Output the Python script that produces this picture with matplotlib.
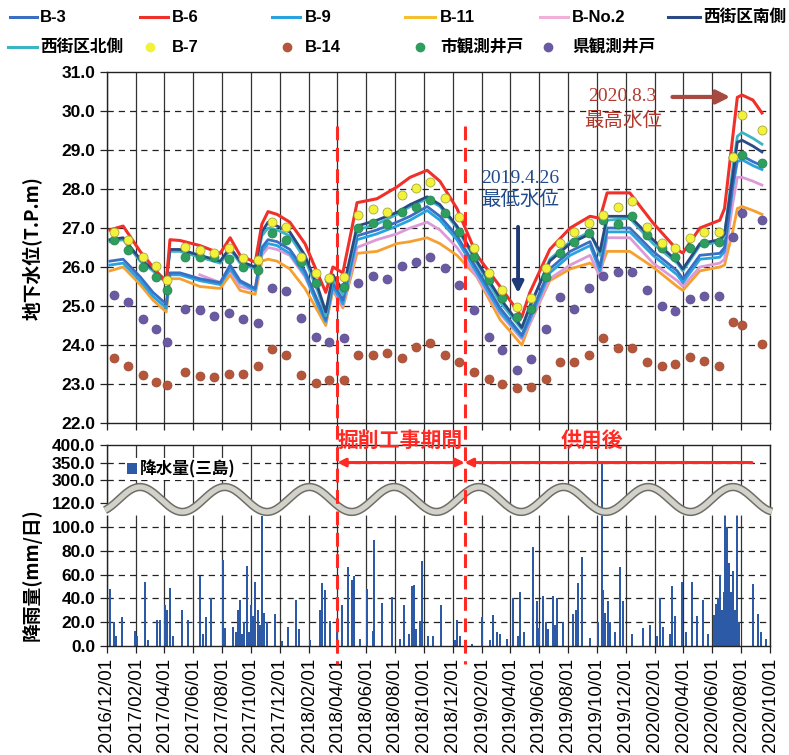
import matplotlib
matplotlib.use("Agg")
import matplotlib.pyplot as plt
import matplotlib.dates as mdates
from matplotlib import font_manager
from matplotlib.lines import Line2D
import numpy as np
import pandas as pd

_installed = {f.name for f in font_manager.fontManager.ttflist}
NARROW = 'Liberation Sans Narrow' if 'Liberation Sans Narrow' in _installed else 'Liberation Sans'
JP = 'Noto Sans CJK JP'
plt.rcParams['font.family'] = ['Liberation Sans', JP, 'DejaVu Sans']

# ---- 地下水位 (連続観測) ----
line_dates = ['2016-12-07', '2017-01-04', '2017-02-09', '2017-03-08', '2017-04-05', '2017-04-13',
              '2017-05-04', '2017-06-15', '2017-07-28', '2017-08-18', '2017-09-08', '2017-10-10',
              '2017-10-24', '2017-11-06', '2017-11-25', '2017-12-22', '2018-01-23', '2018-02-20',
              '2018-03-08', '2018-03-23', '2018-04-13', '2018-05-13', '2018-06-24', '2018-08-05',
              '2018-09-02', '2018-10-08', '2018-11-04', '2018-12-10', '2019-01-21', '2019-03-11',
              '2019-04-26', '2019-05-13', '2019-06-24', '2019-08-06', '2019-09-17', '2019-10-08',
              '2019-10-23', '2019-12-10', '2020-01-28', '2020-03-19', '2020-03-31', '2020-05-06',
              '2020-06-17', '2020-06-27', '2020-07-14', '2020-07-24', '2020-08-03', '2020-08-26',
              '2020-09-14']
b6 = [26.95, 27.05, 26.4, 26.0, 25.6, 26.7, 26.68, 26.55, 26.35, 26.75,
      26.3, 26.12, 27.1, 27.42, 27.35, 27.15, 26.6, 25.8, 25.35, 26.0,
      25.85, 27.65, 27.75, 28.05, 28.3, 28.48, 28.2, 27.5, 26.3, 25.5,
      24.72, 25.35, 26.45, 27.0, 27.3, 27.25, 27.9, 27.9, 27.13, 26.44,
      26.36, 27.0, 27.2, 27.5, 29.3, 30.35, 30.41, 30.28, 29.95]
nishi_s = [26.7, 26.75, 26.2, 25.95, 25.65, 26.45, 26.45, 26.3, 26.15, 26.5,
           26.15, 26.0, 26.9, 27.15, 27.05, 26.9, 26.3, 25.45, 24.85, 25.8,
           25.4, 27.05, 27.2, 27.4, 27.6, 27.8, 27.6, 27.05, 26.15, 25.2,
           24.45, 25.0, 26.15, 26.6, 26.85, 26.4, 27.3, 27.3, 26.7, 26.15,
           25.95, 26.6, 26.7, 26.85, 28.3, 29.2, 29.25, 29.1, 28.95]
nishi_n = [26.65, 26.7, 26.15, 25.9, 25.6, 26.4, 26.4, 26.25, 26.1, 26.45,
           26.1, 25.95, 26.8, 27.0, 26.95, 26.8, 26.2, 25.35, 24.75, 25.7,
           25.3, 26.95, 27.1, 27.35, 27.55, 27.75, 27.55, 27.0, 26.1, 25.1,
           24.4, 24.95, 26.2, 26.65, 26.9, 26.3, 27.2, 27.25, 26.6, 26.1,
           25.9, 26.55, 26.65, 26.8, 28.5, 29.35, 29.45, 29.3, 29.15]
b3 = [26.15, 26.2, 25.75, 25.35, 25.05, 25.85, 25.85, 25.7, 25.6, 26.05,
      25.65, 25.45, 26.5, 26.7, 26.65, 26.45, 25.9, 25.1, 24.65, 25.6,
      25.15, 26.8, 26.95, 27.15, 27.3, 27.55, 27.3, 26.8, 25.95, 24.95,
      24.25, 24.75, 25.95, 26.4, 26.65, 26.0, 27.0, 27.0, 26.4, 25.9,
      25.7, 26.3, 26.35, 26.5, 28.1, 28.85, 28.85, 28.7, 28.6]
b9 = [26.05, 26.1, 25.65, 25.25, 24.95, 25.8, 25.8, 25.65, 25.55, 25.95,
      25.6, 25.4, 26.4, 26.6, 26.55, 26.35, 25.8, 25.0, 24.6, 25.5,
      25.05, 26.7, 26.85, 27.05, 27.2, 27.45, 27.2, 26.7, 25.85, 24.85,
      24.2, 24.65, 25.85, 26.3, 26.55, 25.9, 26.9, 26.9, 26.3, 25.8,
      25.6, 26.2, 26.25, 26.4, 28.0, 28.7, 28.75, 28.6, 28.5]
bno2 = [np.nan] * 7 + [
        25.8, 25.6, 25.9, 25.5, 25.4, 26.3, 26.5, 26.45, 26.3, 25.75,
        25.0, 24.6, 25.45, 25.0, 26.5, 26.7, 26.85, 27.0, 27.15, 26.95,
        26.5, 25.75, 24.8, 24.15, 24.55, 25.7, 26.05, 26.3, 25.75, 26.75,
        26.75, 26.1, 25.65, 25.5, 26.0, 26.1, 26.2, 27.6, 28.3, 28.3,
        28.2, 28.1]
b11 = [25.9, 26.0, 25.55, 25.15, 24.85, 25.7, 25.7, 25.5, 25.45, 25.8,
       25.4, 25.3, 26.15, 26.2, 26.15, 25.95, 25.45, 24.85, 24.5, 25.4,
       24.95, 26.35, 26.4, 26.6, 26.65, 26.75, 26.6, 26.3, 25.75, 24.65,
       24.0, 24.55, 25.65, 25.95, 26.1, 25.9, 26.4, 26.4, 26.0, 25.5,
       25.4, 25.9, 26.0, 26.05, 26.9, 27.5, 27.55, 27.45, 27.35]

# ---- 地下水位 (月1回観測) ----
month_dates = [f'{y}-{m:02d}-15' for y, m in
               [(2016, 12)] + [(2017, m) for m in range(1, 13)] + [(2018, m) for m in range(1, 13)]
               + [(2019, m) for m in range(1, 13)] + [(2020, m) for m in range(1, 10)]]
month_dates[4] = '2017-04-07'
month_dates[44] = '2020-08-03'
b7 = [26.9, 26.69, 26.26, 26.03, 25.67, 26.52, 26.44, 26.36, 26.49, 26.23,
      26.18, 27.16, 27.03, 26.26, 25.84, 25.72, 25.75, 27.33, 27.5, 27.42,
      27.85, 28.02, 28.19, 27.76, 27.29, 26.48, 25.84, 25.41, 24.98, 25.2,
      25.97, 26.61, 26.91, 27.12, 27.33, 27.55, 27.68, 27.03, 26.61, 26.48,
      26.74, 26.91, 26.91, 28.83, 29.9, 29.51]
b14 = [23.66, 23.46, 23.23, 23.06, 22.97, 23.32, 23.2, 23.18, 23.26, 23.26,
       23.46, 23.91, 23.74, 23.23, 23.03, 23.1, 23.1, 23.75, 23.75, 23.8,
       23.66, 23.95, 24.04, 23.74, 23.56, 23.32, 23.12, 23.01, 22.89, 22.93,
       23.14, 23.56, 23.56, 23.75, 24.17, 23.93, 23.93, 23.56, 23.45, 23.52,
       23.69, 23.58, 23.47, 24.6, 24.52, 24.03]
city_well = [26.69, 26.44, 26.0, 25.75, 25.41, 26.26, 26.26, 26.26, 26.2, 26.0,
             25.92, 26.87, 26.69, 26.14, 25.58, 25.7, 25.5, 27.0, 27.13, 27.1,
             27.42, 27.55, 27.72, 27.38, 26.9, 26.26, 25.67, 25.2, 24.72, 24.93,
             25.75, 26.36, 26.65, 26.87, 27.2, 27.1, 27.3, 26.82, 26.48, 26.26,
             26.48, 26.61, 26.65, 28.83, 28.87, 28.66]
pref_well = [25.28, 25.09, 24.66, 24.4, 24.08, 24.92, 24.9, 24.74, 24.82, 24.66,
             24.57, 25.47, 25.38, 24.7, 24.21, 24.08, 24.17, 25.6, 25.76, 25.7,
             26.03, 26.14, 26.26, 25.97, 25.54, 24.9, 24.21, 23.87, 23.36, 23.63,
             24.4, 25.24, 24.92, 25.45, 25.76, 25.88, 25.88, 25.41, 24.99, 24.86,
             25.17, 25.26, 25.26, 26.78, 27.39, 27.2]

# ---- 降水量(三島) mm/日 ----
rain_dates = ['2016-12-07', '2016-12-16', '2016-12-20', '2017-01-02', '2017-01-29', '2017-02-02',
              '2017-02-19', '2017-02-26', '2017-03-17', '2017-03-23', '2017-04-02', '2017-04-07',
              '2017-04-13', '2017-04-19', '2017-05-08', '2017-05-21', '2017-06-15', '2017-06-22',
              '2017-06-28', '2017-07-09', '2017-08-03', '2017-08-07', '2017-08-24', '2017-08-30',
              '2017-09-04', '2017-09-08', '2017-09-12', '2017-09-16', '2017-09-23', '2017-09-27',
              '2017-10-01', '2017-10-05', '2017-10-10', '2017-10-16', '2017-10-20', '2017-10-24',
              '2017-10-29', '2017-11-04', '2017-11-21', '2017-12-06', '2017-12-18', '2018-01-04',
              '2018-01-10', '2018-02-03', '2018-02-24', '2018-02-28', '2018-03-06', '2018-03-17',
              '2018-04-01', '2018-04-11', '2018-04-24', '2018-05-02', '2018-05-07', '2018-05-19',
              '2018-06-03', '2018-06-16', '2018-06-18', '2018-07-05', '2018-07-26', '2018-08-12',
              '2018-08-20', '2018-08-31', '2018-09-06', '2018-09-10', '2018-09-15', '2018-09-23',
              '2018-09-27', '2018-10-10', '2018-10-20', '2018-11-06', '2018-12-06', '2018-12-10',
              '2018-12-16', '2019-01-11', '2019-02-01', '2019-02-18', '2019-02-24', '2019-03-05',
              '2019-03-11', '2019-03-26', '2019-04-07', '2019-04-18', '2019-04-22', '2019-05-01',
              '2019-05-20', '2019-05-28', '2019-06-01', '2019-06-10', '2019-06-16', '2019-06-20',
              '2019-07-01', '2019-07-05', '2019-07-09', '2019-07-22', '2019-08-12', '2019-08-18',
              '2019-08-23', '2019-08-31', '2019-09-17', '2019-10-04', '2019-10-12', '2019-10-14',
              '2019-10-18', '2019-10-25', '2019-10-29', '2019-11-09', '2019-11-19', '2019-11-26',
              '2019-12-15', '2020-01-07', '2020-01-22', '2020-02-05', '2020-02-12', '2020-02-18',
              '2020-03-04', '2020-03-08', '2020-03-14', '2020-03-29', '2020-04-07', '2020-04-19',
              '2020-04-30', '2020-05-13', '2020-05-23', '2020-06-05', '2020-06-09', '2020-06-13',
              '2020-06-17', '2020-06-22', '2020-06-25', '2020-06-28', '2020-07-02', '2020-07-05',
              '2020-07-07', '2020-07-11', '2020-07-15', '2020-07-19', '2020-07-23', '2020-07-28',
              '2020-08-26', '2020-09-06', '2020-09-12', '2020-09-23']
rain_mm = [47.6, 20.0, 8.0, 24.6, 13.0, 8.0,
           54.0, 5.0, 22.0, 22.0, 34.0, 30.0,
           49.0, 8.0, 30.0, 22.0, 59.0, 10.0,
           24.0, 40.0, 72.0, 15.0, 16.0, 12.0,
           30.0, 39.0, 10.0, 20.0, 67.0, 12.0,
           34.0, 25.0, 54.0, 30.0, 18.0, 109.0,
           28.0, 20.0, 27.0, 4.0, 16.0, 39.0,
           14.0, 5.0, 30.0, 53.0, 47.0, 21.0,
           16.0, 34.0, 66.0, 55.0, 59.0, 6.0,
           48.0, 13.0, 89.0, 36.0, 41.0, 6.0,
           34.0, 10.0, 50.0, 51.0, 14.0, 21.0,
           71.0, 8.0, 8.0, 34.0, 5.0, 22.0,
           8.0, 2.0, 24.0, 5.0, 26.0, 12.0,
           10.0, 6.0, 40.0, 8.0, 45.0, 12.0,
           83.0, 38.0, 15.0, 42.0, 20.0, 14.0,
           42.0, 18.0, 40.0, 20.0, 27.0, 30.0,
           53.0, 75.0, 7.0, 20.0, 350.0, 47.0,
           28.0, 38.0, 20.0, 12.0, 66.0, 38.0,
           10.0, 15.0, 18.0, 8.0, 40.0, 16.0,
           10.0, 50.0, 25.0, 54.0, 12.0, 54.0,
           25.0, 39.0, 10.0, 26.0, 35.0, 40.0,
           60.0, 30.0, 45.0, 111.0, 100.0, 40.0,
           70.0, 45.0, 63.0, 30.0, 111.0, 20.0,
           52.0, 27.0, 12.0, 6.0]

period_start = '2018-04-01'
period_end = '2018-12-26'
arrow_end = '2020-08-24'

W, H = 789, 755
fig = plt.figure(figsize=(W / 100, H / 100), dpi=100)
ax = fig.add_axes([107 / W, 1 - 423 / H, 663 / W, 351 / H])
axr = fig.add_axes([107 / W, 1 - 646 / H, 663 / W, 201 / H], sharex=ax)

ld = pd.to_datetime(line_dates)
md = pd.to_datetime(month_dates)

# 線
ax.plot(ld, b11, color='#f5a030', lw=2.0, zorder=3)
ax.plot(ld, bno2, color='#dc9ad8', lw=2.0, zorder=3)
ax.plot(ld, b9, color='#29a3e0', lw=2.0, zorder=3)
ax.plot(ld, b3, color='#3a6fc4', lw=2.0, zorder=3)
ax.plot(ld, nishi_n, color='#3cb4c4', lw=2.0, zorder=3)
ax.plot(ld, nishi_s, color='#2b4a84', lw=2.0, zorder=3)
ax.plot(ld, b6, color='#f0302a', lw=2.2, zorder=4)
# 点
ax.scatter(md, b14, s=42, color='#b5553a', edgecolors='#9a4a35', linewidths=0.5, zorder=5)
ax.scatter(md, pref_well, s=42, color='#6a5aa2', edgecolors='#5a4a90', linewidths=0.5, zorder=5)
ax.scatter(md, city_well, s=42, color='#2e9e5e', edgecolors='#2a8050', linewidths=0.5, zorder=5)
ax.scatter(md, b7, s=42, color='#f2f23a', edgecolors='#a8a840', linewidths=0.6, zorder=6)

x0, x1 = pd.Timestamp('2016-12-01'), pd.Timestamp('2020-10-01')
ticks = pd.date_range(x0, x1, freq='2MS')
ax.set_xlim(x0, x1)
ax.set_xticks(ticks)
ax.set_ylim(22, 31)
ax.set_yticks(np.arange(22, 31.5, 1))
ax.yaxis.set_major_formatter(plt.FormatStrFormatter('%.1f'))
ax.tick_params(labelbottom=False)
for t in ticks:
    ax.axvline(t, color='#333333', lw=0.9, zorder=1)
for v in range(23, 31):
    ax.axhline(v, color='#222222', lw=0.9, ls=(0, (5, 4)), zorder=1)

# 降水量 (途中省略の縦軸)
brk_in = [-1000, 0, 120, 300, 400, 2000]
brk_out = [-1000, 0, 120, 139.3, 168.7, 168.7 + 1600 * 0.294]
axr.set_yscale('function', functions=(lambda v: np.interp(v, brk_in, brk_out),
                                      lambda v: np.interp(v, brk_out, brk_in)))
axr.bar(pd.to_datetime(rain_dates), rain_mm, width=4, color='#2d5aa6',
        label='降水量(三島)', zorder=2)
axr.set_ylim(0, 400)
axr.set_yticks([0, 20, 40, 60, 80, 100, 120, 300, 350, 400])
axr.yaxis.set_major_formatter(plt.FormatStrFormatter('%.1f'))
for t in ticks:
    axr.axvline(t, color='#333333', lw=0.9, zorder=1)
for v in [20, 40, 60, 80, 100, 300, 350]:
    axr.axhline(v, color='#222222', lw=0.9, ls=(0, (5, 4)), zorder=1)
axr.xaxis.set_major_formatter(mdates.DateFormatter('%Y/%m/%d'))
plt.setp(axr.get_xticklabels(), rotation=90, fontsize=13.5)

# 波線 (軸省略記号)
xa = np.linspace(-0.003, 1.003, 400)
wy = 0.729 + 0.062 * np.cos(2 * np.pi * (xa * 663 - 33) / 84.7)
axr.fill_between(xa, 0.655, wy, color='white', transform=axr.transAxes, zorder=3, clip_on=False)
axr.plot(xa, wy, color='#6e6e66', lw=6.0, transform=axr.transAxes, zorder=4,
         clip_on=False, solid_capstyle='butt')
axr.plot(xa, wy, color='#d2d2ca', lw=3.8, transform=axr.transAxes, zorder=5,
         clip_on=False, solid_capstyle='butt')

leg = axr.legend(loc='upper left', bbox_to_anchor=(0.015, 0.975), frameon=True,
                 edgecolor='none', facecolor='white', framealpha=1, handlelength=0.6,
                 handleheight=0.6, handletextpad=0.2, borderpad=0.1,
                 prop={'family': [JP], 'weight': 'bold', 'size': 12})
leg.set_zorder(6)

for a in (ax, axr):
    a.tick_params(direction='out', length=5, width=0.9, color='#222222')
    for s in a.spines.values():
        s.set_color('#222222')
        s.set_linewidth(1.0)
    for lab in a.get_yticklabels():
        lab.set_fontweight('bold')
        lab.set_fontsize(12.5)

# 工事期間の区切り線
red = '#ff2a24'
for d in (period_start, period_end):
    xp = ax.transData.transform((mdates.date2num(pd.Timestamp(d)), 25))[0] / W
    fig.add_artist(Line2D([xp, xp], [1 - 126 / H, 1 - 664 / H], transform=fig.transFigure,
                          color=red, lw=2.2, ls=(0, (4.5, 2.5)), zorder=10))
axr.annotate('', xy=(pd.Timestamp(period_start), 350), xytext=(pd.Timestamp(period_end), 350),
             arrowprops=dict(arrowstyle='<|-|>', color=red, lw=2.2, mutation_scale=12, shrinkA=0, shrinkB=0),
             zorder=7)
axr.annotate('', xy=(pd.Timestamp(period_end), 350), xytext=(pd.Timestamp(arrow_end), 350),
             arrowprops=dict(arrowstyle='-|>', color=red, lw=2.2, mutation_scale=12, shrinkA=0, shrinkB=0),
             zorder=7)
axr.text(pd.Timestamp('2018-08-13'), 1.025, '掘削工事期間', transform=axr.get_xaxis_transform(),
         ha='center', va='center', color=red, fontsize=15, fontweight='bold', family=[JP], zorder=8)
axr.text(pd.Timestamp('2019-09-20'), 1.02, '供用後', transform=axr.get_xaxis_transform(),
         ha='center', va='center', color=red, fontsize=15, fontweight='bold', family=[JP], zorder=8)

# 注記
serif = ['Liberation Serif', JP]
ax.text(pd.Timestamp('2019-11-25'), 30.36, '2020.8.3', ha='center', va='center',
        color='#b03a2e', fontsize=14, family=serif)
ax.text(pd.Timestamp('2019-11-25'), 29.74, '最高水位', ha='center', va='center',
        color='#b03a2e', fontsize=14, family=serif)
ax.annotate('', xy=(pd.Timestamp('2020-07-09'), 30.36), xytext=(pd.Timestamp('2020-03-09'), 30.36),
            arrowprops=dict(arrowstyle='-|>', color='#a84a40', lw=3, mutation_scale=20,
                            shrinkA=0, shrinkB=0))
ax.text(pd.Timestamp('2019-04-22'), 28.28, '2019.4.26', ha='center', va='center',
        color='#1f4b8c', fontsize=14, family=serif)
ax.text(pd.Timestamp('2019-04-22'), 27.72, '最低水位', ha='center', va='center',
        color='#1f4b8c', fontsize=14, family=serif)
ax.annotate('', xy=(pd.Timestamp('2019-04-18'), 25.33), xytext=(pd.Timestamp('2019-04-18'), 27.03),
            arrowprops=dict(arrowstyle='-|>', color='#1f3a78', lw=2.8, mutation_scale=16,
                            shrinkA=0, shrinkB=0), zorder=8)

# 軸ラベル
fig.text(32 / W, 1 - 248 / H, '地下水位(T.P.m)', rotation=90, ha='center', va='center',
         fontsize=13.5, fontweight='bold', family=[JP])
fig.text(32 / W, 1 - 575 / H, '降雨量(mm/日)', rotation=90, ha='center', va='center',
         fontsize=13.5, fontweight='bold', family=[JP])

# 凡例 (上部)
legend_font = dict(fontsize=12, fontweight='bold', family=[NARROW, JP], va='center', ha='left')
row1 = [('B-3', '#3a6fc4', 10, 37, 40), ('B-6', '#f0302a', 140, 168, 172),
        ('B-9', '#29a3e0', 272, 300, 305), ('B-11', '#f5c030', 405, 435, 440),
        ('B-No.2', '#f0b0d8', 540, 568, 572), ('西街区南側', '#2b4a84', 668, 700, 703)]
for lab, c, l0, l1, tx in row1:
    fig.add_artist(Line2D([l0 / W, l1 / W], [1 - 17 / H] * 2, transform=fig.transFigure,
                          color=c, lw=2.2))
    fig.text(tx / W, 1 - 17 / H, lab, **legend_font)
fig.add_artist(Line2D([8 / W, 37 / W], [1 - 47 / H] * 2, transform=fig.transFigure,
                      color='#3cb4c4', lw=2.2))
fig.text(40 / W, 1 - 47 / H, '西街区北側', **legend_font)
row2 = [('B-7', '#f2f23a', 150, 172), ('B-14', '#b5553a', 287, 305),
        ('市観測井戸', '#2e9e5e', 420, 440), ('県観測井戸', '#6a5aa2', 548, 572)]
for lab, c, mx, tx in row2:
    fig.add_artist(Line2D([mx / W], [1 - 47 / H], transform=fig.transFigure, marker='o',
                          ls='none', markersize=6, markerfacecolor=c, markeredgecolor=c))
    fig.text(tx / W, 1 - 47 / H, lab, **legend_font)

fig.savefig('out.png', dpi=100)
